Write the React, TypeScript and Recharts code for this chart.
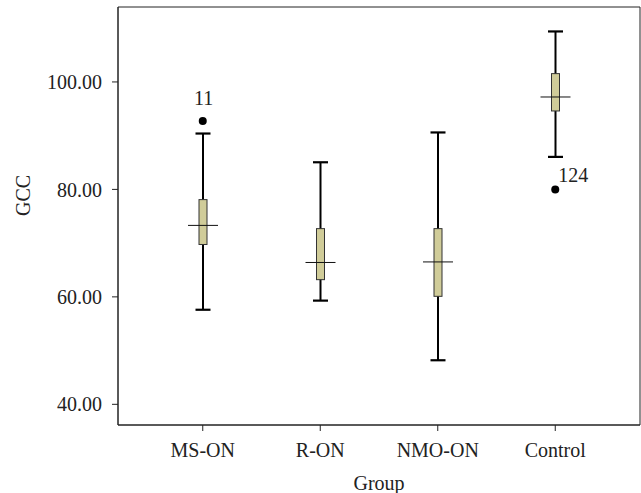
import React from 'react';
import { ComposedChart, Bar, Scatter, XAxis, YAxis, CartesianGrid } from 'recharts';

const groups = ['MS-ON', 'R-ON', 'NMO-ON', 'Control'];
const whiskerLow = [57.6, 59.3, 48.2, 86.05];
const quartile1 = [69.75, 63.2, 60.1, 94.6];
const medians = [73.3, 66.4, 66.5, 97.2];
const quartile3 = [78.1, 72.7, 72.7, 101.55];
const whiskerHigh = [90.4, 85.05, 90.6, 109.4];

const outlierGroups = ['MS-ON', 'Control'];
const outlierValues = [92.75, 80.0];
const outlierIds = ['11', '124'];

const yTicks = [40, 60, 80, 100];

const data = groups.map((g, i) => ({
  group: g,
  min: whiskerLow[i],
  q1: quartile1[i],
  median: medians[i],
  q3: quartile3[i],
  max: whiskerHigh[i],
}));

const outliers = outlierGroups.map((g, i) => ({
  group: g,
  value: outlierValues[i],
  id: outlierIds[i],
}));

const FONT = '"Liberation Serif", "DejaVu Serif", serif';
const BOX_FILL = '#d0cc99';

const BoxShape = (props: any) => {
  const { x, y, width, height, payload } = props;
  if (!payload) return null;
  const { min, q1, median, q3, max } = payload;
  const top = Math.min(y, y + height);
  const h = Math.abs(height);
  const per = h / (max - min);
  const yOf = (v: number) => top + (max - v) * per;
  const cx = x + width / 2;
  const boxHalf = 4;
  const capHalf = 7.5;
  const medHalf = width / 2;
  return (
    <g>
      <line x1={cx} x2={cx} y1={yOf(max)} y2={yOf(min)} stroke="#000" strokeWidth={2} />
      <line x1={cx - capHalf} x2={cx + capHalf} y1={yOf(max)} y2={yOf(max)} stroke="#000" strokeWidth={2.2} />
      <line x1={cx - capHalf} x2={cx + capHalf} y1={yOf(min)} y2={yOf(min)} stroke="#000" strokeWidth={2.2} />
      <rect
        x={cx - boxHalf}
        y={yOf(q3)}
        width={boxHalf * 2}
        height={yOf(q1) - yOf(q3)}
        fill={BOX_FILL}
        stroke="#333"
        strokeWidth={1}
      />
      <line x1={cx - medHalf} x2={cx + medHalf} y1={yOf(median)} y2={yOf(median)} stroke="#111" strokeWidth={1} />
    </g>
  );
};

const OutlierShape = (props: any) => {
  const { cx, cy, payload } = props;
  if (cx == null || cy == null) return null;
  const above = payload.id === '11';
  return (
    <g>
      <circle cx={cx} cy={cy} r={4} fill="#000" />
      {above ? (
        <text x={cx + 1} y={cy - 15.5} textAnchor="middle" fontFamily={FONT} fontSize={20} fill="#222">
          {payload.id}
        </text>
      ) : (
        <text x={cx + 3} y={cy - 7} textAnchor="start" fontFamily={FONT} fontSize={20} fill="#222">
          {payload.id}
        </text>
      )}
    </g>
  );
};

export default function App() {
  return (
    <div style={{ position: 'absolute', left: 0, top: 0, background: '#fff' }}>
      <ComposedChart
        width={641}
        height={493}
        data={data}
        margin={{ top: 7, right: 1, bottom: 0, left: 0 }}
      >
        <CartesianGrid
          stroke="#222"
          strokeWidth={1}
          horizontalCoordinatesGenerator={({ offset }: any) => [offset.top, offset.top + offset.height]}
          verticalCoordinatesGenerator={({ offset }: any) => [offset.left, offset.left + offset.width]}
        />
        <XAxis
          dataKey="group"
          type="category"
          allowDuplicatedCategory={false}
          height={68}
          padding={{ left: 26, right: 26 }}
          tickSize={6}
          tickMargin={12}
          stroke="#222"
          tick={{ fill: '#222', fontFamily: FONT, fontSize: 20 }}
          label={{ value: 'Group', position: 'insideBottom', offset: 3, fill: '#222', fontFamily: FONT, fontSize: 20 }}
        />
        <YAxis
          type="number"
          domain={[36.15, 113.95]}
          allowDataOverflow
          ticks={yTicks}
          tickFormatter={(v: number) => v.toFixed(2)}
          width={118}
          tickSize={6}
          tickMargin={10}
          stroke="#222"
          tick={{ fill: '#222', fontFamily: FONT, fontSize: 20 }}
          label={{ value: 'GCC', angle: -90, position: 'insideLeft', offset: 23, fill: '#222', fontFamily: FONT, fontSize: 20 }}
        />
        <Bar
          dataKey={(d: any) => [d.min, d.max]}
          barSize={30}
          shape={<BoxShape />}
          isAnimationActive={false}
        />
        <Scatter
          data={outliers}
          dataKey="value"
          shape={<OutlierShape />}
          isAnimationActive={false}
        />
      </ComposedChart>
    </div>
  );
}
